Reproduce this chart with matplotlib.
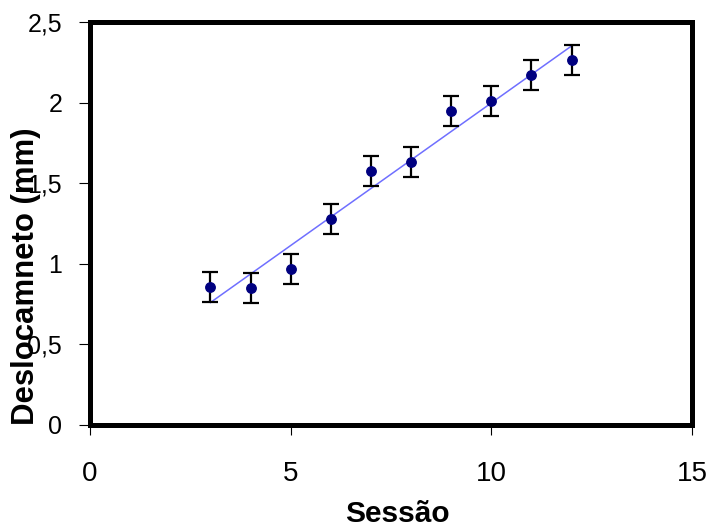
import numpy as np
from matplotlib import pyplot as plt

plt.rcParams['font.family'] = ['Liberation Sans', 'DejaVu Sans']

# sessions and mean displacement (mm)
sessao = [3, 4, 5, 6, 7, 8, 9, 10, 11, 12]
deslocamento = [0.856, 0.85, 0.97, 1.28, 1.575, 1.63, 1.95, 2.01, 2.17, 2.265]
erro = [0.093, 0.093, 0.093, 0.093, 0.093, 0.093, 0.093, 0.093, 0.093, 0.093]

x_ticks = [0, 5, 10, 15]
y_ticks = [0, 0.5, 1, 1.5, 2, 2.5]
y_tick_labels = ['0', '0,5', '1', '1,5', '2', '2,5']

fig = plt.figure(figsize=(7.11, 5.25), dpi=100)
ax = fig.add_axes([90 / 711, 100 / 525, 602 / 711, 403 / 525])

# linear trend line (least squares, like the spreadsheet trendline)
coef = np.polyfit(sessao, deslocamento, 1)
xs = np.array([sessao[0], sessao[-1]])
ax.plot(xs, np.polyval(coef, xs), color='#6f6fff', lw=1.1, zorder=2)

ax.errorbar(sessao, deslocamento, yerr=erro, fmt='o', color='#000080',
            markersize=6.8, ecolor='black', elinewidth=1.6, capsize=5.5,
            capthick=1.6, zorder=3)

ax.set_xlim(0, 15)
ax.set_ylim(0, 2.5)
ax.set_xticks(x_ticks)
ax.set_yticks(y_ticks)
ax.set_yticklabels(y_tick_labels)

for s in ax.spines.values():
    s.set_linewidth(3.6)
    s.set_color('black')

ax.tick_params(axis='y', direction='out', length=8, width=0.8, pad=12, labelsize=18, colors='black')
ax.tick_params(axis='x', direction='out', length=7, width=0.8, pad=19, labelsize=20, colors='black')

ax.set_ylabel('Deslocamneto (mm)', fontsize=22.4, fontweight='bold', va='center')
ax.yaxis.set_label_coords(-0.106, 0.37)
ax.set_xlabel('Sessão', fontsize=21.5, fontweight='bold', va='center')
ax.xaxis.set_label_coords(0.51, -0.222)

fig.savefig('out.png', dpi=100)
